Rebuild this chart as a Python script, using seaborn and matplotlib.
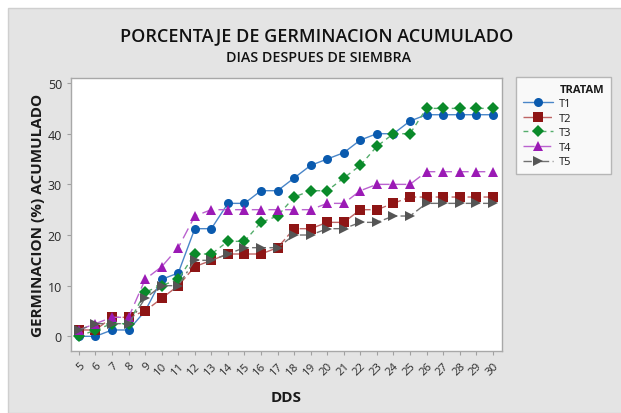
import numpy as np
import pandas as pd
import seaborn as sns
import matplotlib.pyplot as plt
from matplotlib.patches import Rectangle

# DDS (dias despues de siembra)
dds = list(range(5, 31))

t1 = [0, 0, 1.25, 1.25, 5, 11.25, 12.5, 21.25, 21.25, 26.25, 26.25, 28.75, 28.75,
      31.25, 33.75, 35, 36.25, 38.75, 40, 40, 42.5, 43.75, 43.75, 43.75, 43.75, 43.75]
t2 = [1.25, 1.25, 3.75, 3.75, 5, 7.5, 10, 13.75, 15, 16.25, 16.25, 16.25, 17.5,
      21.25, 21.25, 22.5, 22.5, 25, 25, 26.25, 27.5, 27.5, 27.5, 27.5, 27.5, 27.5]
t3 = [0, 1.25, 2.5, 2.5, 8.75, 10, 11.25, 16.25, 16.25, 18.75, 18.75, 22.5, 23.75,
      27.5, 28.75, 28.75, 31.25, 33.75, 37.5, 40, 40, 45, 45, 45, 45, 45]
t4 = [1.25, 2.5, 3.75, 3.75, 11.25, 13.75, 17.5, 23.75, 25, 25, 25, 25, 25,
      25, 25, 26.25, 26.25, 28.75, 30, 30, 30, 32.5, 32.5, 32.5, 32.5, 32.5]
t5 = [1.25, 2.5, 2.5, 2.5, 7.5, 10, 10, 15, 15, 16.25, 17.5, 17.5, 17.5,
      20, 20, 21.25, 21.25, 22.5, 22.5, 23.75, 23.75, 26.25, 26.25, 26.25, 26.25, 26.25]

tratam = ["T1", "T2", "T3", "T4", "T5"]
series = [t1, t2, t3, t4, t5]

df = pd.DataFrame({
    "DDS": np.tile(dds, len(tratam)),
    "val": np.concatenate(series),
    "TRATAM": np.repeat(tratam, len(dds)),
})

colors = {"T1": "#0A5AAE", "T2": "#8E1515", "T3": "#0A8A2A", "T4": "#9B1AB5", "T5": "#555555"}
light = {"T1": "#4A86C8", "T2": "#BE6464", "T3": "#55AD6C", "T4": "#BA62CF", "T5": "#707070"}
markers = {"T1": "o", "T2": "s", "T3": "D", "T4": "^", "T5": ">"}
dashes = {"T1": "", "T2": (9, 2.5), "T3": (3.5, 3), "T4": (8, 4), "T5": (6, 2.5, 1.5, 2.5)}

sns.set_style("white")
plt.rcParams["font.family"] = ["Open Sans", "DejaVu Sans"]

fig = plt.figure(figsize=(6.21, 4.14), dpi=100, facecolor="white")
fig.patches.append(Rectangle((8 / 621, 0), 1, 1 - 9 / 414, transform=fig.transFigure,
                             facecolor="#E4E4E4", edgecolor="#CFCFCF", lw=1, zorder=-10))
ax = fig.add_axes([71 / 621, 1 - 352 / 414, (502 - 71) / 621, (352 - 79) / 414])

sns.lineplot(data=df, x="DDS", y="val", hue="TRATAM", style="TRATAM",
             palette=colors, markers=markers, dashes=dashes, lw=1,
             markersize=6.5, markeredgewidth=0, legend=False, ax=ax)

for line, t in zip(ax.lines, tratam):
    line.set_color(light[t])
    line.set_markerfacecolor(colors[t])
    line.set_markeredgecolor(colors[t])
    if t == "T3":
        line.set_markersize(6)

ax.set_xlim(4.52, 30.56)
ax.set_ylim(-2.9, 51)
ax.set_xticks(dds)
ax.set_xticklabels([str(d) for d in dds], rotation=45, ha="right",
                   rotation_mode="anchor", fontsize=8.2, color="#2A2A2A")
ax.set_yticks([0, 10, 20, 30, 40, 50])
ax.tick_params(axis="y", labelsize=9, colors="#2A2A2A")
ax.tick_params(length=3, width=0.8, color="#A0A0A0", direction="out",
               bottom=True, left=True)
for s in ax.spines.values():
    s.set_color("#A8A8A8")
    s.set_linewidth(1)
ax.set_xlabel("DDS", fontsize=11, fontweight="bold", color="#1A1A1A", labelpad=9)
ax.set_ylabel("GERMINACION (%) ACUMULADO", fontsize=11, fontweight="bold",
              color="#1A1A1A", labelpad=2)

fig.text(0.51, 1 - 36 / 414, "PORCENTAJE DE GERMINACION ACUMULADO", ha="center",
         va="center", fontsize=13, fontweight="semibold", color="#111111")
fig.text(0.513, 1 - 58 / 414, "DIAS DESPUES DE SIEMBRA", ha="center",
         va="center", fontsize=10.3, fontweight="semibold", color="#111111")

# legend with title aligned to labels
blank = plt.Line2D([], [], color="none")
handles = [blank] + list(ax.lines[:5])
labels = ["TRATAM"] + tratam
leg = fig.legend(handles, labels, loc="upper left",
                 bbox_to_anchor=(516 / 621, 1 - 78 / 414), fontsize=8,
                 frameon=True, fancybox=False, edgecolor="#A8A8A8",
                 handlelength=2.7, labelspacing=0.32, borderpad=0.6,
                 handletextpad=0.6, borderaxespad=0)
leg.get_frame().set_linewidth(1)
leg.get_frame().set_facecolor("white")
for txt in leg.get_texts():
    txt.set_color("#1A1A1A")
leg.get_texts()[0].set_fontweight("bold")

fig.savefig("out.png", dpi=100, facecolor=fig.get_facecolor())
